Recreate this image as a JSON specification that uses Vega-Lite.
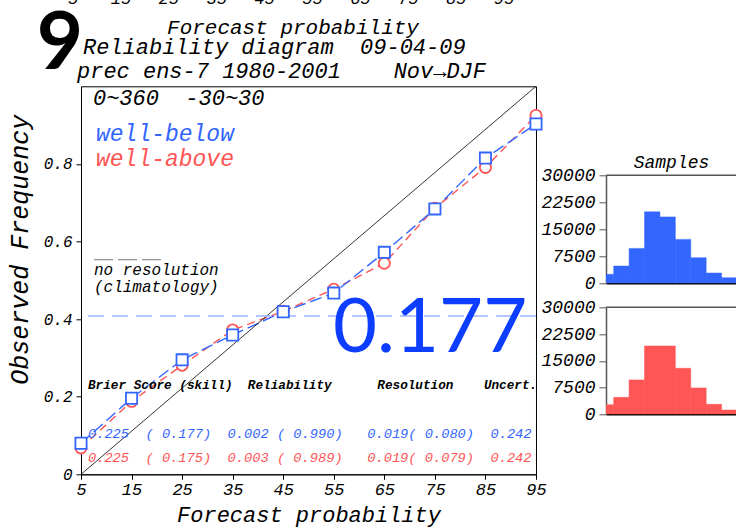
{
  "$schema": "https://vega.github.io/schema/vega-lite/v6.json",
  "background": "white",
  "padding": {"left": 6, "top": -10.7, "right": 0, "bottom": 6},
  "bounds": "flush",
  "spacing": 70,
  "config": {"axis": {"grid": false}, "font": "Liberation Mono"},
  "datasets": {
    "rel": [
      {"prob": 5, "series": "well-above", "freq": 0.068},
      {"prob": 15, "series": "well-above", "freq": 0.188},
      {"prob": 25, "series": "well-above", "freq": 0.281},
      {"prob": 35, "series": "well-above", "freq": 0.372},
      {"prob": 45, "series": "well-above", "freq": 0.42},
      {"prob": 55, "series": "well-above", "freq": 0.477},
      {"prob": 65, "series": "well-above", "freq": 0.544},
      {"prob": 75, "series": "well-above", "freq": 0.686},
      {"prob": 85, "series": "well-above", "freq": 0.791},
      {"prob": 95, "series": "well-above", "freq": 0.925},
      {"prob": 5, "series": "well-below", "freq": 0.08},
      {"prob": 15, "series": "well-below", "freq": 0.196},
      {"prob": 25, "series": "well-below", "freq": 0.295},
      {"prob": 35, "series": "well-below", "freq": 0.359},
      {"prob": 45, "series": "well-below", "freq": 0.419},
      {"prob": 55, "series": "well-below", "freq": 0.467},
      {"prob": 65, "series": "well-below", "freq": 0.572},
      {"prob": 75, "series": "well-below", "freq": 0.684},
      {"prob": 85, "series": "well-below", "freq": 0.815},
      {"prob": 95, "series": "well-below", "freq": 0.903}
    ],
    "histBelow": [
      {"lo": 0, "hi": 10, "count": 2500},
      {"lo": 10, "hi": 20, "count": 4800},
      {"lo": 20, "hi": 30, "count": 9700},
      {"lo": 30, "hi": 40, "count": 19850},
      {"lo": 40, "hi": 50, "count": 18450},
      {"lo": 50, "hi": 60, "count": 12200},
      {"lo": 60, "hi": 70, "count": 7100},
      {"lo": 70, "hi": 80, "count": 2850},
      {"lo": 80, "hi": 90, "count": 1550},
      {"lo": 90, "hi": 100, "count": 800}
    ],
    "histAbove": [
      {"lo": 0, "hi": 10, "count": 2700},
      {"lo": 10, "hi": 20, "count": 4750},
      {"lo": 20, "hi": 30, "count": 9650},
      {"lo": 30, "hi": 40, "count": 19150},
      {"lo": 40, "hi": 50, "count": 19150},
      {"lo": 50, "hi": 60, "count": 12900},
      {"lo": 60, "hi": 70, "count": 7400},
      {"lo": 70, "hi": 80, "count": 2800},
      {"lo": 80, "hi": 90, "count": 1200},
      {"lo": 90, "hi": 100, "count": 700}
    ],
    "topTicks": [
      {"p": 5}, {"p": 15}, {"p": 25}, {"p": 35}, {"p": 45},
      {"p": 55}, {"p": 65}, {"p": 75}, {"p": 85}, {"p": 95}
    ],
    "diag": [
      {"prob": 5, "freq": 0},
      {"prob": 95, "freq": 1}
    ],
    "one": [{}]
  },
  "hconcat": [
    {
      "width": 455,
      "height": 388,
      "view": {"stroke": "black", "strokeWidth": 1},
      "resolve": {"scale": {"x": "independent"}},
      "layer": [
        {
          "layer": [
            {
              "data": {"name": "rel"},
              "mark": {"type": "line", "strokeWidth": 1.4},
              "encoding": {
                "x": {"field": "prob", "type": "quantitative",
                  "scale": {"domain": [5, 95], "nice": false, "zero": false},
                  "axis": {"values": [5, 15, 25, 35, 45, 55, 65, 75, 85, 95], "title": "Forecast probability",
                    "titleFont": "Liberation Mono", "titleFontStyle": "italic", "titleFontWeight": "normal", "titleFontSize": 22, "titleColor": "black",
                    "labelFont": "Liberation Mono", "labelFontStyle": "italic", "labelFontSize": 17, "labelColor": "black",
                    "tickSize": 5, "tickColor": "black", "domainColor": "black", "labelPadding": 2, "titlePadding": 7, "labelFlush": false}},
                "y": {"field": "freq", "type": "quantitative",
                  "scale": {"domain": [0, 1], "nice": false},
                  "axis": {"values": [0, 0.2, 0.4, 0.6, 0.8], "format": "~g", "title": "Observed Frequency",
                    "titleFont": "Liberation Mono", "titleFontStyle": "italic", "titleFontWeight": "normal", "titleFontSize": 25, "titleColor": "black",
                    "titleY": 163,
                    "labelFont": "Liberation Mono", "labelFontStyle": "italic", "labelFontSize": 16, "labelColor": "black",
                    "tickSize": 5, "tickColor": "black", "domainColor": "black", "labelPadding": 4, "titlePadding": 11}},
                "color": {"field": "series", "type": "nominal",
                  "scale": {"domain": ["well-below", "well-above"], "range": ["#3366ff", "#ff5555"]}, "legend": null},
                "strokeDash": {"field": "series", "type": "nominal",
                  "scale": {"domain": ["well-below", "well-above"], "range": [[12, 5], [8, 5]]}, "legend": null},
                "order": {"field": "series", "sort": "ascending"}
              }
            },
            {
              "data": {"name": "diag"},
              "mark": {"type": "line", "color": "black", "strokeWidth": 0.8},
              "encoding": {
                "x": {"field": "prob", "type": "quantitative"},
                "y": {"field": "freq", "type": "quantitative"}
              }
            },
            {
              "data": {"name": "one"},
              "mark": {"type": "rule", "color": "#9db4ff", "strokeDash": [16, 8], "strokeWidth": 1.3},
              "encoding": {"y": {"datum": 0.408}}
            },
            {
              "data": {"name": "rel"},
              "mark": {"type": "point", "filled": false, "fill": "white", "fillOpacity": 1, "strokeWidth": 1.8, "size": 125, "opacity": 1},
              "encoding": {
                "x": {"field": "prob", "type": "quantitative"},
                "y": {"field": "freq", "type": "quantitative"},
                "color": {"field": "series", "type": "nominal", "legend": null},
                "shape": {"field": "series", "type": "nominal",
                  "scale": {"domain": ["well-below", "well-above"], "range": ["square", "circle"]}, "legend": null}
              }
            },
            {
              "data": {"name": "one"},
              "mark": {"type": "rule", "color": "#777777", "strokeDash": [19, 5], "strokeWidth": 1},
              "encoding": {"x": {"datum": 7.57}, "x2": {"datum": 20.82}, "y": {"datum": 0.553}}
            },
            {
              "data": {"name": "one"},
              "mark": {"type": "text", "text": "0~360\u00a0\u00a0-30~30", "align": "left", "baseline": "alphabetic", "font": "Liberation Mono", "fontStyle": "italic", "fontSize": 22, "color": "black"},
              "encoding": {"x": {"datum": 7.37}, "y": {"datum": 0.952}}
            },
            {
              "data": {"name": "one"},
              "mark": {"type": "text", "text": "well-below", "align": "left", "baseline": "alphabetic", "font": "Liberation Mono", "fontStyle": "italic", "fontSize": 23, "color": "#3366ff"},
              "encoding": {"x": {"datum": 7.97}, "y": {"datum": 0.86}}
            },
            {
              "data": {"name": "one"},
              "mark": {"type": "text", "text": "well-above", "align": "left", "baseline": "alphabetic", "font": "Liberation Mono", "fontStyle": "italic", "fontSize": 23, "color": "#ff5555"},
              "encoding": {"x": {"datum": 7.97}, "y": {"datum": 0.7956}}
            },
            {
              "data": {"name": "one"},
              "mark": {"type": "text", "text": "no resolution", "align": "left", "baseline": "alphabetic", "font": "Liberation Mono", "fontStyle": "italic", "fontSize": 16, "color": "black"},
              "encoding": {"x": {"datum": 7.57}, "y": {"datum": 0.5135}}
            },
            {
              "data": {"name": "one"},
              "mark": {"type": "text", "text": "(climatology)", "align": "left", "baseline": "alphabetic", "font": "Liberation Mono", "fontStyle": "italic", "fontSize": 16, "color": "black"},
              "encoding": {"x": {"datum": 7.57}, "y": {"datum": 0.47}}
            },
            {
              "data": {"name": "one"},
              "mark": {"type": "text", "text": "Brier Score (skill)\u00a0\u00a0Reliability\u00a0\u00a0\u00a0\u00a0\u00a0\u00a0Resolution\u00a0\u00a0\u00a0\u00a0Uncert.", "align": "left", "baseline": "alphabetic", "font": "Liberation Mono", "fontStyle": "italic", "fontWeight": "bold", "fontSize": 12.7, "color": "black"},
              "encoding": {"x": {"datum": 6.38}, "y": {"datum": 0.219}}
            },
            {
              "data": {"name": "one"},
              "mark": {"type": "text", "text": "0.225\u00a0\u00a0( 0.177)\u00a0\u00a00.002 ( 0.990)\u00a0\u00a0\u00a00.019( 0.080)\u00a0\u00a00.242", "align": "left", "baseline": "alphabetic", "font": "Liberation Mono", "fontStyle": "italic", "fontSize": 13.7, "color": "#3366ff"},
              "encoding": {"x": {"datum": 6.38}, "y": {"datum": 0.093}}
            },
            {
              "data": {"name": "one"},
              "mark": {"type": "text", "text": "0.225\u00a0\u00a0( 0.175)\u00a0\u00a00.003 ( 0.989)\u00a0\u00a0\u00a00.019( 0.079)\u00a0\u00a00.242", "align": "left", "baseline": "alphabetic", "font": "Liberation Mono", "fontStyle": "italic", "fontSize": 13.7, "color": "#ff5555"},
              "encoding": {"x": {"datum": 6.38}, "y": {"datum": 0.032}}
            },
            {
              "data": {"name": "one"},
              "mark": {"type": "text", "text": "0.177", "align": "left", "baseline": "alphabetic", "font": "Lato", "fontWeight": "normal", "fontSize": 76, "color": "#0d3dff"},
              "encoding": {"x": {"datum": 54.85}, "y": {"datum": 0.315}}
            },
            {
              "data": {"name": "one"},
              "mark": {"type": "text", "text": "9", "align": "center", "baseline": "alphabetic", "font": "Lato", "fontWeight": "bold", "fontSize": 80, "color": "black"},
              "encoding": {"x": {"datum": 0.85}, "y": {"datum": 1.045}}
            },
            {
              "data": {"name": "one"},
              "mark": {"type": "text", "text": "Forecast probability", "align": "center", "baseline": "alphabetic", "font": "Liberation Mono", "fontStyle": "italic", "fontSize": 21, "color": "black"},
              "encoding": {"x": {"datum": 46.93}, "y": {"datum": 1.135}}
            },
            {
              "data": {"name": "one"},
              "mark": {"type": "text", "text": "Reliability diagram\u00a0\u00a009-04-09", "align": "left", "baseline": "alphabetic", "font": "Liberation Mono", "fontStyle": "italic", "fontSize": 22, "color": "black"},
              "encoding": {"x": {"datum": 5.4}, "y": {"datum": 1.0839}}
            },
            {
              "data": {"name": "one"},
              "mark": {"type": "text", "text": "prec ens-7 1980-2001\u00a0\u00a0\u00a0\u00a0Nov\u2192DJF", "align": "left", "baseline": "alphabetic", "font": "Liberation Mono", "fontStyle": "italic", "fontSize": 22, "color": "black"},
              "encoding": {"x": {"datum": 4.21}, "y": {"datum": 1.0219}}
            }
          ]
        },
        {
          "data": {"name": "topTicks"},
          "mark": {"type": "text", "align": "center", "baseline": "alphabetic", "font": "Liberation Mono", "fontStyle": "italic", "fontSize": 17, "color": "black"},
          "encoding": {
            "x": {"field": "p", "type": "quantitative", "scale": {"domain": [6.67, 101.68], "nice": false, "zero": false}, "axis": null},
            "y": {"datum": 1.212},
            "text": {"field": "p", "type": "quantitative"}
          }
        }
      ]
    },
    {
      "bounds": "flush",
      "spacing": 24,
      "vconcat": [
        {
          "width": 131,
          "height": 65,
          "view": {"stroke": null},
          "data": {"name": "one"},
          "mark": {"type": "point", "opacity": 0},
          "encoding": {}
        },
        {
          "width": 131,
          "height": 108,
          "view": {"stroke": null},
          "title": {"text": "Samples", "font": "Liberation Mono", "fontStyle": "italic", "fontWeight": "normal", "fontSize": 18, "color": "black", "offset": -6},
          "layer": [
            {
              "data": {"name": "histBelow"},
              "mark": {"type": "rect", "color": "#3366ff", "stroke": "#3366ff", "strokeWidth": 0.5, "clip": true},
              "encoding": {
                "x": {"field": "lo", "type": "quantitative", "scale": {"domain": [5, 90], "nice": false, "zero": false},
                  "axis": {"labels": false, "ticks": false, "title": null, "domainColor": "black", "domainWidth": 1.5}},
                "x2": {"field": "hi"},
                "y": {"field": "count", "type": "quantitative", "scale": {"domain": [0, 30000], "nice": false},
                  "axis": {"values": [0, 7500, 15000, 22500, 30000], "format": "d", "title": null, "labelOverlap": false,
                    "labelFont": "Liberation Mono", "labelFontStyle": "italic", "labelFontSize": 18, "labelColor": "black",
                    "tickSize": 7, "tickColor": "#555555", "domainColor": "#555555", "domainWidth": 1.5, "labelPadding": 4}},
                "y2": {"datum": 0}
              }
            },
            {
              "data": {"name": "one"},
              "mark": {"type": "rule", "color": "#555555", "strokeWidth": 1.5},
              "encoding": {"y": {"datum": 30000, "type": "quantitative",
                "axis": {"values": [0, 7500, 15000, 22500, 30000], "format": "d", "title": null, "labelOverlap": false,
                    "labelFont": "Liberation Mono", "labelFontStyle": "italic", "labelFontSize": 18, "labelColor": "black",
                    "tickSize": 7, "tickColor": "#555555", "domainColor": "#555555", "domainWidth": 1.5, "labelPadding": 4}}}
            }
          ]
        },
        {
          "width": 131,
          "height": 107,
          "view": {"stroke": null},
          "layer": [
            {
              "data": {"name": "histAbove"},
              "mark": {"type": "rect", "color": "#ff5555", "stroke": "#ff5555", "strokeWidth": 0.5, "clip": true},
              "encoding": {
                "x": {"field": "lo", "type": "quantitative", "scale": {"domain": [5, 90], "nice": false, "zero": false},
                  "axis": {"labels": false, "ticks": false, "title": null, "domainColor": "black", "domainWidth": 1.5}},
                "x2": {"field": "hi"},
                "y": {"field": "count", "type": "quantitative", "scale": {"domain": [0, 30000], "nice": false},
                  "axis": {"values": [0, 7500, 15000, 22500, 30000], "format": "d", "title": null, "labelOverlap": false,
                    "labelFont": "Liberation Mono", "labelFontStyle": "italic", "labelFontSize": 18, "labelColor": "black",
                    "tickSize": 7, "tickColor": "#555555", "domainColor": "#555555", "domainWidth": 1.5, "labelPadding": 4}},
                "y2": {"datum": 0}
              }
            },
            {
              "data": {"name": "one"},
              "mark": {"type": "rule", "color": "#555555", "strokeWidth": 1.5},
              "encoding": {"y": {"datum": 30000, "type": "quantitative",
                "axis": {"values": [0, 7500, 15000, 22500, 30000], "format": "d", "title": null, "labelOverlap": false,
                    "labelFont": "Liberation Mono", "labelFontStyle": "italic", "labelFontSize": 18, "labelColor": "black",
                    "tickSize": 7, "tickColor": "#555555", "domainColor": "#555555", "domainWidth": 1.5, "labelPadding": 4}}}
            }
          ]
        }
      ]
    }
  ]
}
